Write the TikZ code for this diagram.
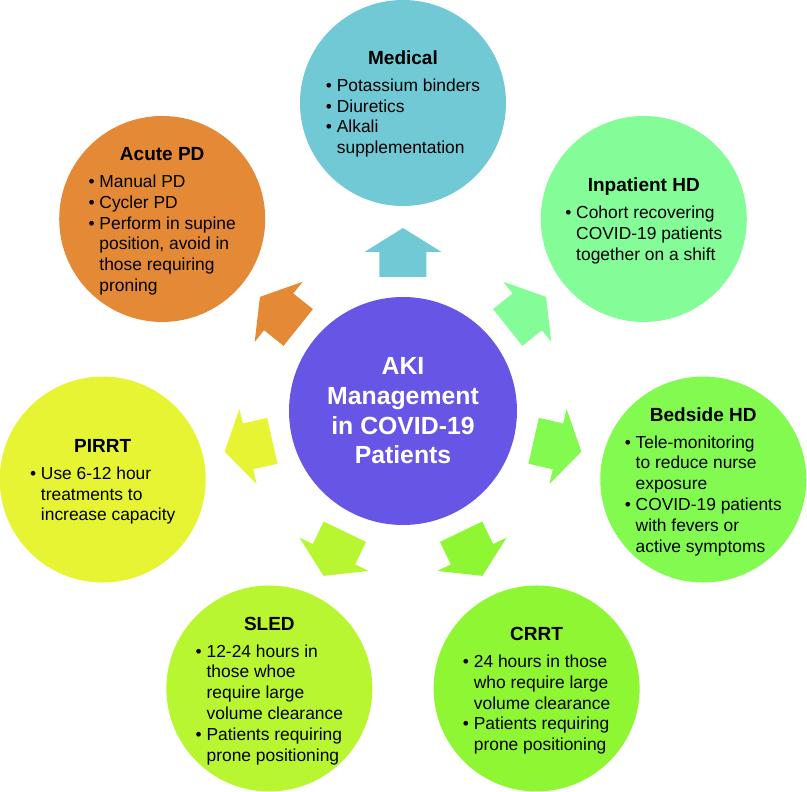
\documentclass[tikz,border=0pt]{standalone}
\usepackage{fontspec}
\setmainfont{Liberation Sans}
\usepackage{array}
\definecolor{medblue}{RGB}{114,201,214}
\definecolor{pdorange}{RGB}{228,137,53}
\definecolor{inpgreen}{RGB}{132,252,152}
\definecolor{bedgreen}{RGB}{130,250,80}
\definecolor{crrtgreen}{RGB}{142,246,50}
\definecolor{sledlime}{RGB}{184,246,50}
\definecolor{pirrtyellow}{RGB}{230,244,52}
\definecolor{hubpurple}{RGB}{103,86,229}
\newcommand{\hd}[1]{\multicolumn{1}{@{}c@{}}{\fontsize{19}{22}\selectfont\bfseries #1}}
\newcommand{\bul}{\textbullet\ }
\newcommand{\hang}{\hphantom{\textbullet\ }}

\begin{document}
\begin{tikzpicture}[x=1pt,y=1pt,
  hub/.style={circle, fill=hubpurple, minimum size=228pt, inner sep=0pt, align=center, text=white, font=\fontsize{24.8}{29.7}\selectfont\bfseries},
  topic/.style={circle, minimum size=206pt, inner sep=0pt},
  note/.style={inner sep=0pt, font=\fontsize{17.4}{20.8}\selectfont}]
\useasboundingbox (-403,-381) rectangle (404,411);
% arrows out of the hub
\foreach \c [count=\k from 0] in {medblue,inpgreen,bedgreen,crrtgreen,sledlime,pirrtyellow,pdorange}
  \fill[\c, rotate=90-\k*360/7] (134,-23.5) -- (159,-23.5) -- (159,-38.5) -- (183,0) -- (159,38.5) -- (159,23.5) -- (134,23.5) -- cycle;
\node[hub] (aki) at (0,0) {AKI\\ Management\\ in COVID-19\\ Patients};
% the seven options
\node[topic, fill=medblue] (med) at (90:308) {};
\node[topic, fill=inpgreen] (inp) at (90-360/7:308) {};
\node[topic, fill=bedgreen] (bed) at (90-2*360/7:308) {};
\node[topic, fill=crrtgreen] (crrt) at (90-3*360/7:308) {};
\node[topic, fill=sledlime] (sled) at (90-4*360/7:308) {};
\node[topic, fill=pirrtyellow] (pirrt) at (90-5*360/7:308) {};
\node[topic, fill=pdorange] (pd) at (90-6*360/7:308) {};
\node[note] (med-txt) at ([yshift=-2pt]med) {\begin{tabular}{@{}l@{}}
  \hd{Medical}\\[6pt]
  \bul Potassium binders\\
  \bul Diuretics\\
  \bul Alkali\\
  \hang supplementation
\end{tabular}};
\node[note] (inp-txt) at ([yshift=-3pt]inp) {\begin{tabular}{@{}l@{}}
  \hd{Inpatient HD}\\[6pt]
  \bul Cohort recovering\\
  \hang COVID-19 patients\\
  \hang together on a shift
\end{tabular}};
\node[note] (bed-txt) at ([yshift=-3pt]bed) {\begin{tabular}{@{}l@{}}
  \hd{Bedside HD}\\[6pt]
  \bul Tele-monitoring\\
  \hang to reduce nurse\\
  \hang exposure\\
  \bul COVID-19 patients\\
  \hang with fevers or\\
  \hang active symptoms
\end{tabular}};
\node[note] (crrt-txt) at ([yshift=-3pt]crrt) {\begin{tabular}{@{}l@{}}
  \hd{CRRT}\\[6pt]
  \bul 24 hours in those\\
  \hang who require large\\
  \hang volume clearance\\
  \bul Patients requiring\\
  \hang prone positioning
\end{tabular}};
\node[note] (sled-txt) at ([yshift=-3pt]sled) {\begin{tabular}{@{}l@{}}
  \hd{SLED}\\[6pt]
  \bul 12-24 hours in\\
  \hang those whoe\\
  \hang require large\\
  \hang volume clearance\\
  \bul Patients requiring\\
  \hang prone positioning
\end{tabular}};
\node[note] (pirrt-txt) at ([yshift=-3pt]pirrt) {\begin{tabular}{@{}l@{}}
  \hd{PIRRT}\\[6pt]
  \bul Use 6-12 hour\\
  \hang treatments to\\
  \hang increase capacity
\end{tabular}};
\node[note] (pd-txt) at ([yshift=-3pt]pd) {\begin{tabular}{@{}l@{}}
  \hd{Acute PD}\\[6pt]
  \bul Manual PD\\
  \bul Cycler PD\\
  \bul Perform in supine\\
  \hang position, avoid in\\
  \hang those requiring\\
  \hang proning
\end{tabular}};
\end{tikzpicture}
\end{document}
